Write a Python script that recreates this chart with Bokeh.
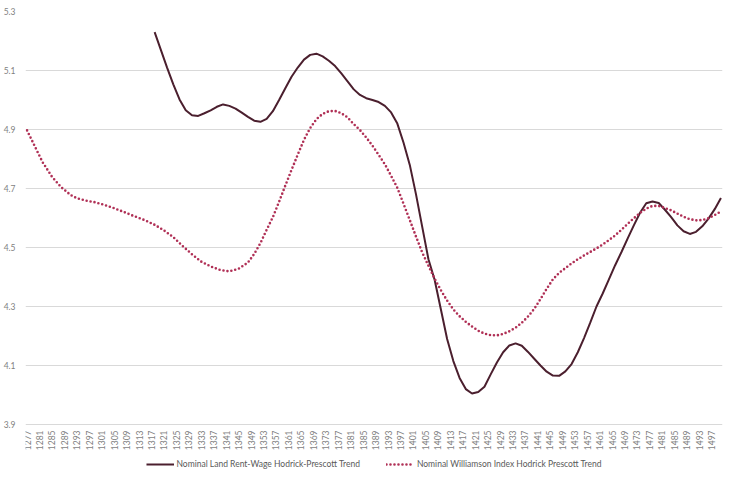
import math
from bokeh.plotting import figure
from bokeh.models import Legend, LegendItem, FixedTicker, PrintfTickFormatter, Range1d
from bokeh.core.properties import value
from bokeh.embed import file_html
from bokeh.resources import INLINE

# ---------------- data ----------------
rent_years = [1318, 1320, 1322, 1324, 1326, 1328, 1330, 1332, 1334, 1336, 1338, 1340,
              1342, 1344, 1346, 1348, 1350, 1352, 1354, 1356, 1358, 1360, 1362, 1364,
              1366, 1368, 1370, 1372, 1374, 1376, 1378, 1380, 1382, 1384, 1386, 1388,
              1390, 1392, 1394, 1396, 1398, 1400, 1402, 1404, 1406, 1408, 1410, 1412,
              1414, 1416, 1418, 1420, 1422, 1424, 1426, 1428, 1430, 1432, 1434, 1436,
              1438, 1440, 1442, 1444, 1446, 1448, 1450, 1452, 1454, 1456, 1458, 1460,
              1462, 1464, 1466, 1468, 1470, 1472, 1474, 1476, 1478, 1480, 1482, 1484,
              1486, 1488, 1490, 1492, 1494, 1496, 1498, 1500]
rent_values = [5.230, 5.170, 5.110, 5.053, 5.002, 4.965, 4.948, 4.946, 4.955, 4.965, 4.977, 4.985,
               4.980, 4.971, 4.957, 4.943, 4.930, 4.926, 4.936, 4.962, 5.000, 5.040, 5.079, 5.110,
               5.137, 5.153, 5.157, 5.148, 5.133, 5.115, 5.090, 5.063, 5.036, 5.017, 5.006, 5.000,
               4.993, 4.980, 4.958, 4.920, 4.855, 4.780, 4.680, 4.570, 4.460, 4.390, 4.290, 4.190,
               4.115, 4.058, 4.020, 4.005, 4.010, 4.028, 4.070, 4.110, 4.145, 4.168, 4.175, 4.167,
               4.146, 4.123, 4.100, 4.079, 4.066, 4.065, 4.080, 4.105, 4.145, 4.193, 4.245, 4.300,
               4.344, 4.392, 4.440, 4.484, 4.530, 4.575, 4.618, 4.650, 4.656, 4.651, 4.628, 4.603,
               4.575, 4.555, 4.546, 4.553, 4.572, 4.598, 4.630, 4.668]

will_years = [1277, 1280, 1282, 1285, 1288, 1291, 1293, 1296, 1299, 1302, 1305, 1308,
              1311, 1315, 1318, 1321, 1324, 1327, 1330, 1333, 1336, 1339, 1342, 1345,
              1348, 1350, 1352, 1354, 1356, 1358, 1360, 1362, 1364, 1366, 1368, 1370,
              1372, 1374, 1376, 1378, 1380, 1382, 1384, 1386, 1388, 1390, 1392, 1394,
              1396, 1398, 1400, 1402, 1404, 1406, 1408, 1410, 1412, 1414, 1416, 1418,
              1420, 1422, 1424, 1426, 1428, 1430, 1432, 1434, 1436, 1438, 1440, 1442,
              1444, 1446, 1448, 1450, 1452, 1454, 1456, 1458, 1460, 1462, 1464, 1466,
              1468, 1470, 1472, 1474, 1476, 1478, 1480, 1482, 1484, 1486, 1488, 1490,
              1492, 1494, 1496, 1498, 1500]
will_values = [4.897, 4.832, 4.789, 4.740, 4.704, 4.678, 4.667, 4.659, 4.653, 4.644, 4.633, 4.621,
               4.608, 4.592, 4.577, 4.558, 4.535, 4.505, 4.477, 4.452, 4.436, 4.424, 4.419, 4.428,
               4.449, 4.478, 4.515, 4.560, 4.603, 4.655, 4.710, 4.763, 4.815, 4.865, 4.905, 4.935,
               4.953, 4.962, 4.963, 4.955, 4.941, 4.918, 4.898, 4.873, 4.845, 4.814, 4.782, 4.743,
               4.702, 4.648, 4.593, 4.537, 4.483, 4.438, 4.394, 4.355, 4.320, 4.290, 4.267, 4.248,
               4.232, 4.218, 4.208, 4.203, 4.202, 4.207, 4.216, 4.228, 4.245, 4.266, 4.292, 4.325,
               4.360, 4.392, 4.414, 4.430, 4.446, 4.460, 4.473, 4.485, 4.497, 4.510, 4.525, 4.541,
               4.560, 4.580, 4.599, 4.617, 4.632, 4.641, 4.641, 4.634, 4.626, 4.615, 4.604, 4.596,
               4.592, 4.593, 4.599, 4.610, 4.622]

x_tick_years = list(range(1277, 1498, 4))
x_tick_labels = [str(yr) for yr in x_tick_years]
y_ticks = [3.9, 4.1, 4.3, 4.5, 4.7, 4.9, 5.1, 5.3]

rent_label = "Nominal Land Rent-Wage Hodrick-Prescott Trend"
will_label = "Nominal Williamson Index Hodrick Prescott Trend"

# ---------------- figure ----------------
FONT = "Lato"
Y_MIN, Y_MAX = 3.9, 5.3
PX_PER_UNIT = 295.0          # plot-area scale (413 px for 1.4 units)
BOTTOM_ROOM = 46             # room under the 3.9 line for year labels and legend
p = figure(frame_width=697, frame_height=413 + BOTTOM_ROOM, output_backend="svg",
           toolbar_location=None,
           x_range=Range1d(1276.5, 1500.5),
           y_range=Range1d(Y_MIN - BOTTOM_ROOM / PX_PER_UNIT, Y_MAX),
           min_border_left=18, min_border_right=3, min_border_top=11, min_border_bottom=0)
p.outline_line_color = None
p.background_fill_color = "white"
p.border_fill_color = "white"

p.xgrid.grid_line_color = None
p.ygrid.grid_line_color = "#d9d9d9"
p.ygrid.grid_line_width = 1

p.xaxis.visible = False
p.yaxis.ticker = FixedTicker(ticks=y_ticks)
p.yaxis.formatter = PrintfTickFormatter(format="%.1f")
p.yaxis.axis_line_color = None
p.yaxis.major_tick_line_color = None
p.yaxis.minor_tick_line_color = None
p.yaxis.major_label_text_font = FONT
p.yaxis.major_label_text_font_size = "8.5px"
p.yaxis.major_label_text_color = "#7f7f7f"
p.yaxis.major_label_standoff = 4

# year labels (rotated, reading upward) just under the 3.9 line
p.text(x=x_tick_years, y=[Y_MIN] * len(x_tick_years), text=x_tick_labels,
       angle=math.pi / 2, text_align="right", text_baseline="middle", y_offset=6,
       text_font=value(FONT), text_font_size="8.5px", text_color="#7f7f7f")

r_rent = p.line(rent_years, rent_values, line_color="#4b1f2e", line_width=2)
r_will = p.line(will_years, will_values, line_color="#b03056", line_width=2.6,
                line_dash="0 4", line_cap="round")

legend = Legend(items=[LegendItem(label=rent_label, renderers=[r_rent]),
                       LegendItem(label=will_label, renderers=[r_will])],
                orientation="horizontal", location="bottom_center",
                label_text_font=FONT, label_text_font_size="8.5px",
                label_text_color="#595959", glyph_width=28, glyph_height=10,
                label_height=12, label_standoff=3, spacing=26, padding=1, margin=0,
                border_line_color=None, background_fill_alpha=0)
p.add_layout(legend, "center")

open("out.html", "w").write(file_html(p, INLINE))
